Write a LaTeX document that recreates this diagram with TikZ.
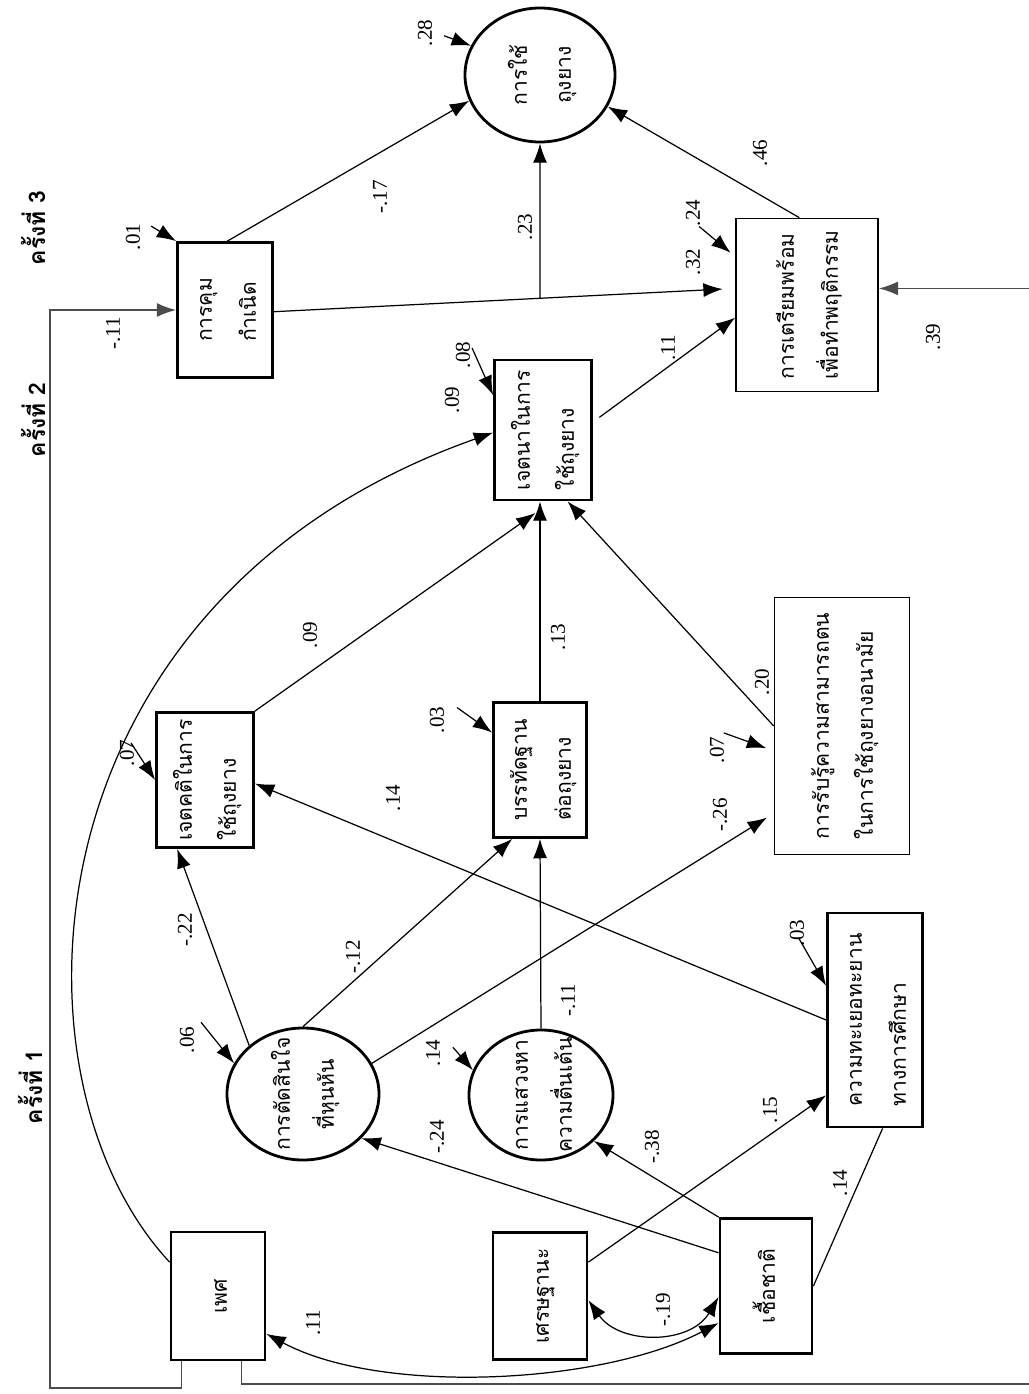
\documentclass[tikz,border=0pt]{standalone}
\usepackage{fontspec}
\setmainfont{Liberation Serif}
\newfontfamily\thai[Script=Thai]{Loma}
\usepackage{graphicx}
\usetikzlibrary{arrows.meta, calc, shapes.geometric}

\newcommand\vtxt[2][l]{\rotatebox{90}{\thai\fontsize{12}{25}\selectfont\begin{tabular}{@{}#1@{}}#2\end{tabular}}}

\tikzset{
  obs/.style={draw, rectangle, line width=1.6pt, inner sep=0pt},
  obsthin/.style={draw, rectangle, line width=0.9pt, inner sep=0pt},
  latent/.style={draw, ellipse, line width=1.6pt, inner sep=0pt},
  pathline/.style={line width=0.7pt, -{Latex[length=11pt,width=8pt]}},
  corr/.style={line width=0.7pt, {Latex[length=11pt,width=8pt]}-{Latex[length=11pt,width=8pt]}},
  errarr/.style={line width=0.7pt, {Latex[length=11pt,width=8pt]}-},
  bracket/.style={draw=black!70, line width=0.9pt},
  coef/.style={rotate=90, font=\fontsize{12}{14}\selectfont},
  wave/.style={rotate=90, font=\thai\bfseries\fontsize{13}{15}\selectfont},
}

\begin{document}
\begin{tikzpicture}[x=0.2mm, y=-0.2mm]
\path[use as bounding box, fill=white] (0,0) rectangle (1029,1394);

% waves
\node[wave] (w3) at (33,228) {ครั้งที่ 3};
\node[wave] (w2) at (33,420) {ครั้งที่ 2};
\node[wave] (w1) at (30,1087) {ครั้งที่ 1};

% exogenous
\node[obs, minimum width=18.8mm, minimum height=25.6mm] (sex) at (218,1296) {\vtxt{เพศ}};
\node[obs, minimum width=18.8mm, minimum height=25.4mm] (econ) at (540,1296) {\vtxt{เศรษฐานะ}};
\node[obs, minimum width=18.4mm, minimum height=27mm] (race) at (766,1286) {\vtxt{เชื้อชาติ}};

% wave 1
\node[latent, minimum width=30.4mm, minimum height=26.4mm,
  label={center:{\vtxt[c]{การตัดสินใจ\\ที่หุนหัน}}}] (impulse) at (303,1094) {};
\node[latent, minimum width=28.8mm, minimum height=26mm,
  label={center:{\vtxt[c]{การแสวงหา\\ความตื่นเต้น}}}] (sensation) at (541,1095) {};
\node[obs, minimum width=19mm, minimum height=42.8mm] (aspire) at (875,1020) {\vtxt{ความทะเยอทะยาน\\ทางการศึกษา}};
\node[obs, minimum width=19.4mm, minimum height=27mm] (attitude) at (205,780) {\vtxt{เจตคติในการ\\ใช้ถุงยาง}};
\node[obs, minimum width=18.6mm, minimum height=27mm] (norm) at (540,770) {\vtxt{บรรทัดฐาน\\ต่อถุงยาง}};
\node[obsthin, minimum width=27mm, minimum height=51.4mm] (efficacy) at (842,726) {\vtxt{การรับรู้ความสามารถตน\\ในการใช้ถุงยางอนามัย}};

% wave 2
\node[obs, minimum width=19.4mm, minimum height=28mm] (intent) at (543,430) {\vtxt{เจตนาในการ\\ใช้ถุงยาง}};
\node[obs, minimum width=19mm, minimum height=27mm] (control) at (225,310) {\vtxt{การคุม\\กำเนิด}};
\node[obsthin, minimum width=28.4mm, minimum height=34.6mm] (prep) at (807,305) {\vtxt{การเตรียมพร้อม\\เพื่อทำพฤติกรรม}};

% wave 3
\node[latent, minimum width=30mm, minimum height=26.8mm,
  label={center:{\vtxt[c]{การใช้\\ถุงยาง}}}] (use) at (540,75) {};

% paths
\draw[pathline] (control.88) -- (use.200);
\draw[pathline, shorten >=2.5mm] (control.-2) -- (prep.167);
\coordinate (split) at ($(control.-2)!0.577!(prep.167)$);
\draw[pathline] (split) -- (use.south);
\draw[pathline] (prep.95) -- (use.-25);
\draw[pathline, shorten <=1.6mm] (intent.9) -- (prep.190);
\draw[pathline, shorten >=4mm] (attitude.north east) -- (intent.-83);
\draw[pathline] (norm.north) -- (norm.north |- intent.south);
\draw[pathline] (efficacy.west) -- (intent.-71);
\draw[pathline] (sex.145) .. controls (0,1080) and (20,600) .. (intent.183);
\draw[corr] (sex.-38) .. controls (380,1395) and (600,1385) .. (race.218);
\draw[corr] (econ.-5) .. controls (620,1345) and (690,1345) .. (race.193);
\draw[pathline] (race.145) -- (impulse.-37);
\draw[pathline] (race.north west) -- (sensation.-41);
\draw[pathline] (econ.35) -- (aspire.237);
\draw[line width=0.7pt] (race.east) -- (aspire.-86);
\draw[pathline] (aspire.west) -- (attitude.-4);
\draw[pathline] (impulse.138) -- (attitude.248);
\draw[pathline] (impulse.north) -- (norm.248);
\draw[pathline, shorten >=1.6mm] (impulse.24) -- (efficacy.232);
\draw[pathline] (sensation.north) -- (norm.south);

% lagged paths
\coordinate (lowL) at (50,1388);
\coordinate (lowR) at (1045,1384);
\draw[pathline, bracket] ($(sex.south west)+(12,0)$) |- (lowL) |- (control.west);
\draw[pathline, bracket] ($(sex.south west)+(72,0)$) |- (lowR) |- (prep.13);

% errors
\draw[errarr] (use.157) -- ++(-27,-10);
\draw[errarr] (control.north west) -- ++(-25,-15);
\draw[errarr] (intent.145) -- ++(-21,-47);
\draw[errarr, shorten <=1.2mm] (prep.146) -- ++(-36,-30);
\draw[errarr] (attitude.west) -- ++(-24,-37);
\draw[errarr] (norm.142) -- ++(-35,-25);
\draw[errarr, shorten <=1.6mm] (efficacy.200) -- ++(-50,-18);
\draw[errarr] (impulse.156) -- ++(-33,-41);
\draw[errarr] (sensation.160) -- ++(-20,-23);
\draw[errarr] (aspire.145) -- ++(-27,-47);

% coefficients
\node[coef] at (425,33) {.28};
\node[coef] at (133,237) {.01};
\node[coef] at (380,197) {-.17};
\node[coef] at (113,333) {-.11};
\node[coef] at (525,227) {.23};
\node[coef] at (693,262) {.32};
\node[coef] at (693,213) {.24};
\node[coef] at (760,153) {.46};
\node[coef] at (933,337) {.39};
\node[coef] at (668,348) {.11};
\node[coef] at (463,355) {.08};
\node[coef] at (452,400) {.09};
\node[coef] at (310,635) {.09};
\node[coef] at (127,753) {.07};
\node[coef] at (437,720) {.03};
\node[coef] at (558,637) {.13};
\node[coef] at (762,682) {.20};
\node[coef] at (717,750) {.07};
\node[coef] at (720,815) {-.26};
\node[coef] at (393,798) {.14};
\node[coef] at (185,930) {-.22};
\node[coef] at (353,957) {-.12};
\node[coef] at (187,1040) {.06};
\node[coef] at (433,1053) {.14};
\node[coef] at (568,1000) {-.11};
\node[coef] at (437,1137) {-.24};
\node[coef] at (652,1147) {-.38};
\node[coef] at (770,1110) {.15};
\node[coef] at (797,933) {.03};
\node[coef] at (840,1183) {.14};
\node[coef] at (663,1310) {-.19};
\node[coef] at (313,1323) {.11};
\end{tikzpicture}
\end{document}
